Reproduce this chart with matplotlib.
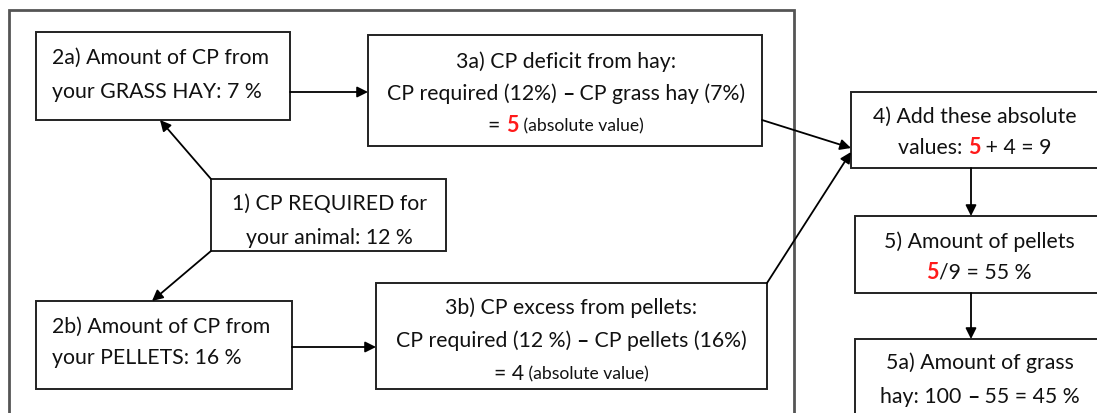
"""
CP balance flowchart: grass hay + pellets mix
"""

import matplotlib
matplotlib.use('Agg')
import matplotlib.pyplot as plt
from matplotlib.patches import Rectangle

plt.rcParams['font.family'] = ['Lato', 'DejaVu Sans']

RED = '#ff1a1a'
INK = '#111111'
DASH = '\u2013'

# values shown in the chart
cp_required = 12
cp_hay = 7
cp_pellets = 16
deficit = 5
excess = 4
total = 9
pellets_pct = 55
hay_pct = 45

# box text, one list of lines per box; a line is a list of (text, style) pieces
box_lines = {
    '2a': [[('2a) Amount of CP from', 'n')],
           [(f'your GRASS HAY: {cp_hay} %', 'n')]],
    '3a': [[('3a) CP deficit from hay:', 'n')],
           [(f'CP required ({cp_required}%) ', 'n'), (DASH, 'b'),
            (f' CP grass hay ({cp_hay}%)', 'n')],
           [('= ', 'n'), (f'{deficit}', 'r'), (' (absolute value)', 's')]],
    '1': [[('1) CP REQUIRED for', 'n')],
          [(f'your animal: {cp_required} %', 'n')]],
    '2b': [[('2b) Amount of CP from', 'n')],
           [(f'your PELLETS: {cp_pellets} %', 'n')]],
    '3b': [[('3b) CP excess from pellets:', 'n')],
           [(f'CP required ({cp_required} %) ', 'n'), (DASH, 'b'),
            (f' CP pellets ({cp_pellets}%)', 'n')],
           [(f'= {excess}', 'n'), (' (absolute value)', 's')]],
    '4': [[('4) Add these absolute', 'n')],
          [('values: ', 'n'), (f'{deficit}', 'r'), (f' + {excess} = {total}', 'n')]],
    '5': [[('5) Amount of pellets', 'n')],
          [(f'{deficit}', 'r'), (f'/{total} = {pellets_pct} %', 'n')]],
    '5a': [[('5a) Amount of grass', 'n')],
           [('hay: 100 ', 'n'), (DASH, 'b'), (f' {pellets_pct} = {hay_pct} %', 'n')]],
}

# layout in pixels: box (x0, y0, x1, y1), text anchor x, first line y, line step, alignment
layout = {
    '2a': ((36, 33, 290, 121), 52, 58, 34, 'left'),
    '3a': ((368, 36, 762, 147), 566, 62, 32, 'center'),
    '1': ((211, 180, 446, 252), 329, 204, 34, 'center'),
    '2b': ((36, 302, 292, 390), 52, 327, 31, 'left'),
    '3b': ((376, 284, 767, 390), 571, 308, 33, 'center'),
    '4': ((851, 93, 1110, 169), 975, 117, 31, 'center'),
    '5': ((855, 217, 1110, 294), 979, 242, 31, 'center'),
    '5a': ((855, 340, 1110, 430), 980, 363, 34, 'center'),
}

# arrows: (start, end) in pixels
arrows = [
    ((290, 93), (368, 93)),
    ((211, 180), (160, 121)),
    ((211, 252), (152, 302)),
    ((292, 348), (376, 348)),
    ((762, 121), (851, 149)),
    ((767, 284), (851, 153)),
    ((971, 169), (971, 217)),
    ((971, 294), (971, 340)),
]

STYLES = {
    'n': dict(fontsize=15.3, color=INK),
    'b': dict(fontsize=15.3, color=INK, fontweight='bold'),
    's': dict(fontsize=12.6, color=INK),
    'r': dict(fontsize=15.5, color=RED, fontweight='bold'),
}


def draw_line(ax, renderer, x, y, pieces, align):
    """Draw one text line made of several styled pieces"""
    widths = []
    for txt, st in pieces:
        t = ax.text(0, 0, txt, **STYLES[st])
        bb = t.get_window_extent(renderer=renderer)
        widths.append(bb.width)
        t.remove()
    full = sum(widths)
    cx = x - full / 2 if align == 'center' else x
    for (txt, st), w in zip(pieces, widths):
        ax.text(cx, y, txt, ha='left', va='center', **STYLES[st])
        cx += w


fig = plt.figure(figsize=(10.97, 4.14), dpi=100)
ax = fig.add_axes([0, 0, 1, 1])
ax.set_xlim(0, 1097)
ax.set_ylim(414, 0)
ax.axis('off')
renderer = fig.canvas.get_renderer()

# outer frame (open at bottom edge of the picture)
ax.plot([9, 9, 794, 794], [430, 11, 11, 430], color='#555555', lw=2.0,
        solid_joinstyle='miter')

for key, lines in box_lines.items():
    (x0, y0, x1, y1), tx, ty, step, align = layout[key]
    ax.add_patch(Rectangle((x0, y0), x1 - x0, y1 - y0, fill=True,
                           facecolor='white', edgecolor='#222222', lw=1.4))
    for i, pieces in enumerate(lines):
        draw_line(ax, renderer, tx, ty + i * step, pieces, align)

for start, end in arrows:
    ax.annotate('', xy=end, xytext=start,
                arrowprops=dict(arrowstyle='-|>', color='black', lw=1.3,
                                mutation_scale=16, shrinkA=0, shrinkB=0))

plt.savefig('out.png', dpi=100)
plt.close()
